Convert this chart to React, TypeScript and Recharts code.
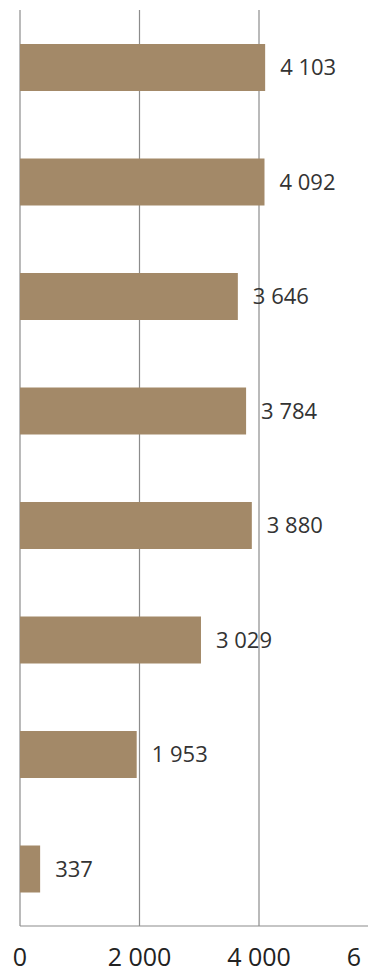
import React from "react";
import {
  BarChart,
  Bar,
  XAxis,
  YAxis,
  CartesianGrid,
  LabelList,
} from "recharts";

// Rows from top to bottom (category names are not shown in the chart)
const categories = ["1", "2", "3", "4", "5", "6", "7", "8"];
const values = [4103, 4092, 3646, 3784, 3880, 3029, 1953, 337];
const xTicks = [0, 2000, 4000, 6000];

const data = categories.map((name, i) => ({ name, value: values[i] }));

const fmt = (v: number) =>
  String(v).replace(/\B(?=(\d{3})+(?!\d))/g, " ");

const FONT = "'Open Sans', 'DejaVu Sans', sans-serif";

export default function App() {
  return (
    <div
      style={{
        position: "fixed",
        left: 0,
        top: 0,
        width: 368,
        height: 968,
        overflow: "hidden",
        background: "#fff",
      }}
    >
      <BarChart
        width={380}
        height={968}
        data={data}
        layout="vertical"
        margin={{ top: 10, right: 1.5, bottom: 0, left: 20 }}
        barCategoryGap={34}
      >
        <CartesianGrid
          horizontal={false}
          vertical
          stroke="#8c8c8c"
          strokeWidth={1.2}
        />
        <XAxis
          type="number"
          domain={[0, 6000]}
          ticks={xTicks}
          tickFormatter={fmt}
          axisLine={{ stroke: "#8c8c8c", strokeWidth: 1.2 }}
          tickLine={false}
          tickMargin={16}
          height={42}
          tick={{ fontSize: 25, fill: "#222", fontFamily: FONT }}
          interval={0}
        />
        <XAxis
          xAxisId="top"
          orientation="top"
          type="number"
          domain={[0, 6000]}
          tick={false}
          tickLine={false}
          axisLine={{ stroke: "#a6a6a6", strokeWidth: 1.2 }}
          height={0}
        />
        <YAxis
          type="category"
          dataKey="name"
          width={0}
          tick={false}
          tickLine={false}
          axisLine={{ stroke: "#d4d4d4", strokeWidth: 2 }}
        />
        <Bar dataKey="value" fill="#a38968" isAnimationActive={false}>
          <LabelList
            dataKey="value"
            position="right"
            offset={15}
            formatter={(v: any) => fmt(Number(v))}
            style={{ fontSize: 22, fill: "#333", fontFamily: FONT }}
          />
        </Bar>
      </BarChart>
    </div>
  );
}
